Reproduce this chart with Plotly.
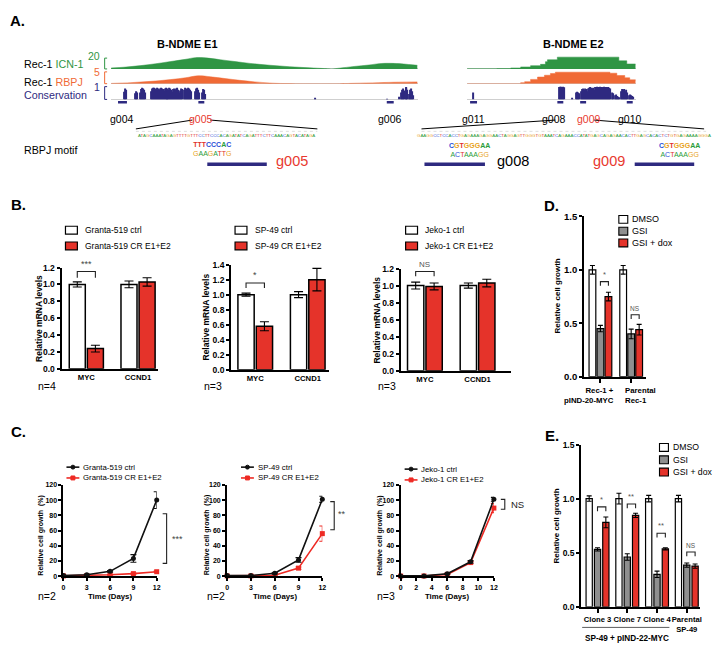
import plotly.graph_objects as go

W, H = 723, 657
FONT = "Liberation Sans, Arial, sans-serif"
GREEN = "#2f9544"
ORANGE = "#f06a36"
PURPLE = "#2e2a80"
RED = "#e5332a"
TXTRED = "#e8392f"
GRAYBAR = "#8f8f8f"

# ---------------- Panel A data (positions along each enhancer window) ----------------
e1_icn_pos = [0, 15, 30, 45, 60, 75, 85, 95, 110, 125, 140, 160, 180, 200, 215, 222, 230, 245, 260, 273, 290, 300, 309]
e1_icn_val = [1.3, 2.5, 4.5, 7, 10, 13, 15.3, 15, 12.5, 10, 7.5, 5, 3, 1.5, 0.5, 0, 1, 3.3, 5.3, 7.4, 7.2, 6, 4.9]
e1_rbpj_pos = [0, 20, 40, 60, 75, 88, 100, 115, 130, 145, 160, 175, 230, 245, 270, 290, 309]
e1_rbpj_val = [0.1, 0.4, 0.9, 1.6, 2.3, 3.1, 2.7, 2.0, 1.3, 0.7, 0.25, 0.05, 0.0, 0.15, 0.4, 0.6, 0.7]
e1_cons_pos = [13, 14, 15, 24, 25, 26, 29, 30, 31, 32, 33, 34,
               40, 41, 42, 43, 44, 45, 46, 47, 48, 49, 50, 51, 52, 53, 54, 55, 56, 57, 58, 59,
               60, 61, 62, 63, 64, 65, 66, 67, 68, 69, 70, 71, 72,
               74, 75, 76, 77, 78, 79, 80, 81, 85, 86, 87, 88, 89, 92, 93, 94, 95,
               206, 278, 290, 292, 293, 294, 295, 297, 298, 299, 301, 302, 303, 304, 305]
e1_cons_val = [0.55, 0.8, 0.7, 0.45, 0.6, 0.5, 0.5, 0.75, 0.85, 0.8, 0.7, 0.5,
               0.6, 0.8, 0.85, 0.85, 0.8, 0.75, 0.85, 0.8, 0.7, 0.8, 0.85, 0.8, 0.75, 0.65, 0.8, 0.85, 0.8, 0.6, 0.7, 0.85,
               0.8, 0.7, 0.55, 0.75, 0.8, 0.7, 0.8, 0.85, 0.7, 0.5, 0.65, 0.8, 0.75,
               0.7, 0.85, 0.8, 0.75, 0.85, 0.8, 0.7, 0.6, 0.6, 0.8, 0.85, 0.7, 0.5, 0.5, 0.75, 0.7, 0.4,
               0.07, 0.04, 0.2, 0.5, 0.7, 0.8, 0.65, 0.85, 0.9, 0.7, 0.4, 0.7, 0.8, 0.6, 0.3]
e2_icn_pos = [0, 30, 44, 54, 64, 74, 79, 81, 91, 153, 161, 170]
e2_icn_val = [0.2, 0.5, 1.3, 2.7, 4.4, 6.2, 9.8, 12.4, 16, 11, 6.7, 6.7]
e2_rbpj_pos = [0, 54, 58, 64, 71, 78, 84, 89, 141, 144, 151, 159, 164, 170]
e2_rbpj_val = [0, 0.4, 0.77, 1.67, 2.6, 3.3, 4.0, 4.5, 4.5, 4.1, 3.2, 2.3, 1.5, 1.3]
e2_cons_pos = [6, 93, 94, 95, 96, 97, 98, 106, 110, 111, 112, 113,
               115, 116, 117, 118, 119, 120, 121, 122, 123, 124, 125, 126, 127, 128,
               129, 130, 131, 132, 133, 134, 135, 136, 137, 138, 139, 140, 141, 142, 143, 144,
               146, 147, 149, 150, 151, 152, 153, 155, 156, 157, 158, 159, 160, 161, 163, 164, 165, 166, 167]
e2_cons_val = [0.5, 0.9, 0.92, 0.92, 0.9, 0.92, 0.88, 0.12, 0.5, 0.55, 0.5, 0.45,
               0.6, 0.75, 0.8, 0.7, 0.8, 0.75, 0.6, 0.8, 0.85, 0.9, 0.85, 0.8, 0.85, 0.7,
               0.9, 0.9, 0.92, 0.9, 0.9, 0.92, 0.9, 0.88, 0.9, 0.92, 0.9, 0.9, 0.88, 0.9, 0.85, 0.8,
               0.5, 0.45, 0.3, 0.35, 0.25, 0.2, 0.15, 0.6, 0.75, 0.7, 0.75, 0.6, 0.7, 0.5, 0.3, 0.35, 0.3, 0.25, 0.2]
e1_guides = ["g004", "g005", "g006"]
e1_guide_start = [7, 88, 278]
e1_guide_end = [16, 94, 285]
e2_guides = ["g011", "g008", "g009", "g010"]
e2_guide_start = [3, 91, 114, 161]
e2_guide_end = [10, 97, 120, 167]
red_guides = ["g005", "g009"]
e1_seq = "ATAGCAAATAGAGTTTTGTTTCCTTCCCACAGATATCAGATTTCTTCAAACAGTACATAGA"
e2_seq = "GAAGGCCTCCACCTGAGAAAGAGGAACTAGGAGTTGGGTGTAAATCAGAAACCATATGAGCAGAGAACACTTGAGCACACTCTGTGAGAAAAGGGA"

# ---------------- Panel B data ----------------
genes = ["MYC", "CCND1"]
granta_ctrl = [1.00, 1.00]
granta_ctrl_err = [0.03, 0.04]
granta_cr = [0.24, 1.03]
granta_cr_err = [0.04, 0.05]
sp49_ctrl = [1.00, 1.00]
sp49_ctrl_err = [0.02, 0.04]
sp49_cr = [0.58, 1.20]
sp49_cr_err = [0.06, 0.15]
jeko_ctrl = [1.00, 1.00]
jeko_ctrl_err = [0.04, 0.03]
jeko_cr = [0.99, 1.03]
jeko_cr_err = [0.04, 0.045]

# ---------------- Panel C data ----------------
days = [0, 3, 6, 9, 12]
granta_ctrl_growth = [1, 2, 6.5, 23.5, 100]
granta_ctrl_growth_err = [0.3, 0.5, 1, 5, 11]
granta_cr_growth = [0.5, 1, 2, 3.5, 6]
granta_cr_growth_err = [0.2, 0.2, 0.5, 0.7, 0.8]
sp49_ctrl_growth = [1, 1, 4, 21.5, 101]
sp49_ctrl_growth_err = [0.2, 0.3, 0.8, 3, 4]
sp49_cr_growth = [0.5, 0.5, 1.3, 10.7, 56]
sp49_cr_growth_err = [0.2, 0.2, 0.5, 1.5, 10]
jeko_ctrl_growth = [0.5, 0.5, 3.3, 19, 101]
jeko_ctrl_growth_err = [0.2, 0.2, 0.5, 1.5, 2.5]
jeko_cr_growth = [0.3, 0.4, 2.5, 18, 89.5]
jeko_cr_growth_err = [0.2, 0.2, 0.5, 1.5, 6]

# ---------------- Panel D data ----------------
d_groups = ["Rec-1 +<br>pIND-20-MYC", "Parental<br>Rec-1"]
d_dmso = [1.00, 1.00]
d_dmso_err = [0.04, 0.04]
d_gsi = [0.45, 0.40]
d_gsi_err = [0.03, 0.045]
d_dox = [0.75, 0.44]
d_dox_err = [0.04, 0.05]

# ---------------- Panel E data ----------------
e_groups = ["Clone 3", "Clone 7", "Clone 4", "Parental<br>SP-49"]
e_dmso = [1.00, 1.00, 1.00, 1.00]
e_dmso_err = [0.025, 0.05, 0.03, 0.03]
e_gsi = [0.53, 0.46, 0.30, 0.385]
e_gsi_err = [0.015, 0.03, 0.03, 0.02]
e_dox = [0.78, 0.845, 0.536, 0.376]
e_dox_err = [0.05, 0.02, 0.01, 0.02]

# =====================================================================
fig = go.Figure()
annotations = []
shapes = []
axes = {}


def xdom(a, b):
    return [a / W, b / W]


def ydom(top, bot):
    return [1 - bot / H, 1 - top / H]


def T(text, x, y, size=11, color="black", bold=False, xanchor="center", yanchor="middle", angle=0, align="center"):
    annotations.append(dict(text=text, x=x / W, y=1 - y / H, xref="paper", yref="paper", showarrow=False,
                            font=dict(size=size, color=color, family=FONT, weight="bold" if bold else "normal"),
                            xanchor=xanchor, yanchor=yanchor, textangle=angle, borderpad=0, align=align))


def L(x0, y0, x1, y1, color="black", width=1, dash=None):
    shapes.append(dict(type="line", xref="paper", yref="paper", x0=x0 / W, y0=1 - y0 / H, x1=x1 / W, y1=1 - y1 / H,
                       line=dict(color=color, width=width, dash=dash)))


def R(x0, y0, x1, y1, fill, line="black", lw=1):
    shapes.append(dict(type="rect", xref="paper", yref="paper", x0=x0 / W, y0=1 - y0 / H, x1=x1 / W, y1=1 - y1 / H,
                       fillcolor=fill, line=dict(color=line, width=lw)))


def tick_font(size):
    return dict(family=FONT, size=size, color="black", weight="bold")


# ---------------- Panel A ----------------
axes["xaxis"] = dict(domain=xdom(110, 419), range=[0, 309], visible=False, anchor="y4")
axes["xaxis2"] = dict(domain=xdom(469, 639), range=[0, 170], visible=False, anchor="y8")
track_y = dict(showgrid=False, showline=False, showticklabels=False, ticks="", zeroline=True,
               zerolinecolor="#cfcfcf", zerolinewidth=1)
for i, (top, bot, rng) in enumerate([(49, 64, [0, 20]), (66, 79, [0, 5]), (81, 95, [0, 1])]):
    axes["yaxis%s" % ("" if i == 0 else i + 1)] = dict(track_y, domain=ydom(top, bot), range=rng, anchor="x")
    axes["yaxis%d" % (i + 5)] = dict(track_y, domain=ydom(top, bot), range=rng, anchor="x2")
axes["yaxis4"] = dict(domain=ydom(96, 100), range=[0, 1], visible=False, anchor="x")
axes["yaxis8"] = dict(domain=ydom(96, 100), range=[0, 1], visible=False, anchor="x2")

for xa, ya, xs, ys, col, shp in [("x", "y", e1_icn_pos, e1_icn_val, GREEN, "spline"),
                                 ("x", "y2", e1_rbpj_pos, e1_rbpj_val, ORANGE, "spline"),
                                 ("x2", "y5", e2_icn_pos, e2_icn_val, GREEN, "hv"),
                                 ("x2", "y6", e2_rbpj_pos, e2_rbpj_val, ORANGE, "hv")]:
    fig.add_trace(go.Scatter(x=xs, y=ys, xaxis=xa, yaxis=ya, mode="lines", fill="tozeroy", fillcolor=col,
                             line=dict(color=col, width=0.5, shape=shp), hoverinfo="skip", showlegend=False))
for xa, ya, xs, ys in [("x", "y3", e1_cons_pos, e1_cons_val), ("x2", "y7", e2_cons_pos, e2_cons_val)]:
    fig.add_trace(go.Bar(x=xs, y=ys, xaxis=xa, yaxis=ya, width=1.08, marker=dict(color=PURPLE, line=dict(width=0)),
                         showlegend=False, hoverinfo="skip"))


def guide_trace(xa, ya, starts, ends):
    gx, gy = [], []
    for s, e in zip(starts, ends):
        gx += [s, e, None]
        gy += [0.5, 0.5, None]
    fig.add_trace(go.Scatter(x=gx, y=gy, xaxis=xa, yaxis=ya, mode="lines", line=dict(color=PURPLE, width=2.5),
                             showlegend=False, hoverinfo="skip"))


guide_trace("x", "y4", e1_guide_start, e1_guide_end)
guide_trace("x2", "y8", e2_guide_start, e2_guide_end)
label_shift = {"g008": -6, "g009": 6}
for xa, names, starts, ends in [("x", e1_guides, e1_guide_start, e1_guide_end),
                                ("x2", e2_guides, e2_guide_start, e2_guide_end)]:
    for n, s, e in zip(names, starts, ends):
        annotations.append(dict(text=n, x=(s + e) / 2, xref=xa, y=1 - 107 / H, yref="paper", showarrow=False,
                                xshift=label_shift.get(n, 0),
                                font=dict(size=10.5, family=FONT, color=TXTRED if n in red_guides else "black")))

T("A.", 7, 15, size=15, bold=True, xanchor="left")
T("B-NDME E1", 187, 39, size=11, bold=True)
T("B-NDME E2", 576, 39, size=11, bold=True)
T("Rec-1 <span style='color:%s'>ICN-1</span>" % GREEN, 21, 59, size=10.7, xanchor="left")
T("Rec-1 <span style='color:%s'>RBPJ</span>" % ORANGE, 21, 77, size=10.7, xanchor="left")
T("Conservation", 21, 91, size=10.7, color=PURPLE, xanchor="left")
T("20", 100, 51, size=10.5, color=GREEN, xanchor="right")
T("5", 100, 67, size=10.5, color=ORANGE, xanchor="right")
T("1", 100, 82, size=10.5, color=PURPLE, xanchor="right")
for (y0, y1, c) in [(53, 64, GREEN), (67, 79, ORANGE), (82, 95, PURPLE)]:
    shapes.append(dict(type="path", xref="paper", yref="paper",
                       path="M %f,%f L %f,%f L %f,%f L %f,%f" % (106 / W, 1 - y0 / H, 103.5 / W, 1 - y0 / H,
                                                                 103.5 / W, 1 - y1 / H, 106 / W, 1 - y1 / H),
                       line=dict(color=c, width=1)))

# zoom lines
L(192, 116, 135, 125)
L(210, 116, 318, 125)
L(558, 116, 423, 125)
L(597, 116, 708, 125)
L(135, 127.5, 318, 127.5, color="#c8c8c8", width=0.6, dash="dot")
L(423, 127.5, 710, 127.5, color="#c8c8c8", width=0.6, dash="dot")

BASE = {"A": "#2a9d3a", "C": "#2b4fd6", "G": "#e8a21a", "T": "#e0302a"}


def colored(seq):
    return "".join("<span style='color:%s'>%s</span>" % (BASE[b], b) for b in seq)


T(colored(e1_seq), 226.5, 132, size=4.4)
T(colored(e2_seq), 566.5, 132, size=4.4)
T("RBPJ motif", 21, 146, size=10.7, xanchor="left")


def logo(top, bot, x, y):
    txt = "<b>" + colored(top) + "</b><br>" + colored(bot)
    T(txt, x, y, size=7)


logo("TTTCCCAC", "GAAGATTG", 212, 145)
logo("CGTGGGAA", "ACTAAAGG", 471, 146)
logo("CGTGGGAA", "ACTAAAGG", 683, 146)

for (a, b) in [(207, 267), (426, 487), (638, 698)]:
    L(a, 161, b, 161, color=PURPLE, width=3.5)
T("g005", 292, 158, size=14.5, color=TXTRED)
T("g008", 515, 158, size=14.5)
T("g009", 612, 158, size=14.5, color=TXTRED)

# ---------------- Panel B ----------------
T("B.", 8, 202, size=15, bold=True, xanchor="left")


def bar_axes(xn, yn, xd, yd, xr, yr, tickvals, ticktext, yticks, xticks="", xtsize=7.7, ytsize=8.5, fmt=".1f"):
    axes["xaxis%d" % xn] = dict(domain=xdom(*xd), range=xr, anchor="y%d" % yn, showline=True, linecolor="black",
                                linewidth=2, showgrid=False, zeroline=False, tickmode="array", tickvals=tickvals,
                                ticktext=ticktext, ticks=xticks, ticklen=4, tickwidth=2, tickcolor="black",
                                tickfont=tick_font(xtsize), tickangle=0)
    axes["yaxis%d" % yn] = dict(domain=ydom(*yd), range=yr, anchor="x%d" % xn, showline=True, linecolor="black",
                                linewidth=2, showgrid=False, zeroline=False, tickmode="array", tickvals=yticks,
                                tickformat=fmt, ticks="outside", ticklen=3, tickwidth=2, tickcolor="black",
                                tickfont=tick_font(ytsize))


def bars(xn, yn, vals, errs, color, offset, width, lw=1.5, errw=4.5):
    fig.add_trace(go.Bar(x=list(range(len(vals))), y=vals, xaxis="x%d" % xn, yaxis="y%d" % yn,
                         offset=offset, width=width,
                         marker=dict(color=color, line=dict(color="black", width=lw)),
                         error_y=dict(type="data", array=errs, color="black", thickness=1.1, width=errw),
                         showlegend=False, hoverinfo="skip"))


def bracket(xn, yn, x0, x1, ytop, yleg, label, size=9, color="#333333"):
    shapes.append(dict(type="path", xref="x%d" % xn, yref="y%d" % yn,
                       path="M %f,%f L %f,%f L %f,%f L %f,%f" % (x0, yleg, x0, ytop, x1, ytop, x1, yleg),
                       line=dict(color="#222222", width=1.1)))
    annotations.append(dict(text=label, x=(x0 + x1) / 2, y=ytop, xref="x%d" % xn, yref="y%d" % yn,
                            yanchor="bottom", showarrow=False, yshift=1,
                            font=dict(size=size, family=FONT, color=color)))


b_panels = [
    (3, 9, (60, 157), (266, 369), [-0.48, 1.38], [0, 1.2], granta_ctrl, granta_ctrl_err, granta_cr, granta_cr_err,
     "Granta-519", 64, 37, "***", 1.153, 1.08, "n=4", 35),
    (4, 10, (231, 330), (263, 370), [-0.46, 1.41], [0, 1.4], sp49_ctrl, sp49_ctrl_err, sp49_cr, sp49_cr_err,
     "SP-49", 235, 206, "*", 1.155, 1.09, "n=3", 203),
    (5, 11, (402, 513), (267, 371), [-0.46, 1.63], [0, 1.2], jeko_ctrl, jeko_ctrl_err, jeko_cr, jeko_cr_err,
     "Jeko-1", 407, 378, "NS", 1.165, 1.11, "n=3", 378),
]
for (xn, yn, xd, yd, xr, yr, cv, ce, rv, re_, name, lgx, ytx, sig, stop, sleg, ntxt, nx) in b_panels:
    yt = [round(0.2 * k, 1) for k in range(int(round(yr[1] / 0.2)) + 1)]
    bar_axes(xn, yn, xd, yd, xr, yr, [0, 1], genes, yt)
    bars(xn, yn, cv, ce, "white", -0.33, 0.31)
    bars(xn, yn, rv, re_, RED, 0.02, 0.31)
    bracket(xn, yn, -0.175, 0.175, stop, sleg, sig, size=9 if sig != "NS" else 8,
            color="#444444" if sig != "NS" else "#555555")
    R(lgx, 224, lgx + 12, 232, "white", lw=1.2)
    R(lgx, 240, lgx + 12, 248, RED, lw=1.2)
    T(name + " ctrl", lgx + 19, 228, size=8.5, xanchor="left")
    T(name + " CR E1+E2", lgx + 19, 244, size=8.5, xanchor="left")
    T("Relative mRNA levels", ytx, (yd[0] + yd[1]) / 2, size=8.5, bold=True, angle=-90)
    T(ntxt, nx, 386, size=10.5, xanchor="left")

# ---------------- Panel D ----------------
T("D.", 546, 203, size=15, bold=True, xanchor="left")
bar_axes(6, 12, (587, 649), (214, 377), [-0.53, 1.47], [0, 1.5], [0, 1], ["", ""], [0, 0.5, 1.0, 1.5],
         xticks="outside", ytsize=9.5)
bars(6, 12, d_dmso, d_dmso_err, "white", -0.37, 0.22, lw=1.2, errw=2.5)
bars(6, 12, d_gsi, d_gsi_err, GRAYBAR, -0.11, 0.22, lw=1.2, errw=2.5)
bars(6, 12, d_dox, d_dox_err, RED, 0.15, 0.22, lw=1.2, errw=2.5)
bracket(6, 12, 0.0, 0.26, 0.89, 0.85, "*", size=7.5, color="#555555")
bracket(6, 12, 1.0, 1.26, 0.58, 0.54, "NS", size=6.5, color="#555555")
T(d_groups[0], 618, 385, size=7.8, bold=True, xanchor="right", yanchor="top", align="right")
T(d_groups[1], 627, 385, size=7.8, bold=True, xanchor="left", yanchor="top", align="left")
T("Relative cell growth", 560, 295, size=8, bold=True, angle=-90)
for i, (lab, col) in enumerate([("DMSO", "white"), ("GSI", GRAYBAR), ("GSI + dox", RED)]):
    yy = 217 + 12 * i
    R(622, yy - 4, 631, yy + 4, col, lw=1.1)
    T(lab, 634, yy, size=9, xanchor="left")

# ---------------- Panel E ----------------
T("E.", 547, 437, size=15, bold=True, xanchor="left")
bar_axes(10, 16, (584, 704), (446, 611), [-0.55, 3.45], [0, 1.5], [0, 1, 2, 3], e_groups, [0, 0.5, 1.0, 1.5],
         xticks="outside", xtsize=7.6, ytsize=8.5)
bars(10, 16, e_dmso, e_dmso_err, "white", -0.385, 0.21, lw=1.2, errw=2.5)
bars(10, 16, e_gsi, e_gsi_err, GRAYBAR, -0.105, 0.21, lw=1.2, errw=2.5)
bars(10, 16, e_dox, e_dox_err, RED, 0.175, 0.21, lw=1.2, errw=2.5)
for k, (top, lab) in enumerate([(0.924, "*"), (0.95, "**"), (0.68, "**"), (0.506, "NS")]):
    bracket(10, 16, k + 0.0, k + 0.28, top, top - 0.04, lab, size=7.5 if lab != "NS" else 6.5, color="#555555")
T("Relative cell growth", 559, 529, size=8, bold=True, angle=-90)
for i, (lab, col) in enumerate([("DMSO", "white"), ("GSI", GRAYBAR), ("GSI + dox", RED)]):
    yy = 449 + 12.5 * i
    R(663, yy - 4, 672, yy + 4, col, lw=1.1)
    T(lab, 676, yy, size=8.7, xanchor="left")
L(585, 632, 673, 632, color="#333333", width=0.8)
T("SP-49 + pIND-22-MYC", 630, 643, size=8.2, bold=True)

# ---------------- Panel C ----------------
T("C.", 8, 433, size=15, bold=True, xanchor="left")
c_panels = [
    (7, 13, (62, 156), 3, granta_ctrl_growth, granta_ctrl_growth_err, granta_cr_growth, granta_cr_growth_err,
     "Granta-519", 65, 469, 39, 109, "n=2", 35, (166, 82, 17, "***", 177, 49, 9, "#444444")),
    (8, 14, (227, 323), 3, sp49_ctrl_growth, sp49_ctrl_growth_err, sp49_cr_growth, sp49_cr_growth_err,
     "SP-49", 241, 469, 207, 275, "n=2", 206, (335, 98, 61, "**", 343, 82, 9, "#444444")),
    (9, 15, (402, 496), 2, jeko_ctrl_growth, jeko_ctrl_growth_err, jeko_cr_growth, jeko_cr_growth_err,
     "Jeko-1", 406, 471, 381, 449, "n=3", 377, (507, 101, 88, "NS", 511, 94, 9.5, "#222222")),
]
for (xn, yn, xd, dt, cv, ce, rv, re_, name, lgx, lgy, ytx, xtx, ntxt, nx, br) in c_panels:
    axes["xaxis%d" % xn] = dict(domain=xdom(*xd), range=[0, 12], anchor="y%d" % yn, showline=True,
                                linecolor="black", linewidth=2, showgrid=False, zeroline=False, dtick=dt, tick0=0,
                                ticks="outside", ticklen=3, tickwidth=1.5, tickcolor="black", tickfont=tick_font(7),
                                tickangle=0)
    axes["yaxis%d" % yn] = dict(domain=ydom(487, 580), range=[0, 120], anchor="x%d" % xn, showline=True,
                                linecolor="black", linewidth=2, showgrid=False, zeroline=False, dtick=20, tick0=0,
                                ticks="outside", ticklen=3, tickwidth=1.5, tickcolor="black", tickfont=tick_font(7))
    for vals, errs, col, sym in [(rv, re_, "#ee2a24", "square"), (cv, ce, "#111111", "circle")]:
        fig.add_trace(go.Scatter(x=days, y=vals, xaxis="x%d" % xn, yaxis="y%d" % yn, mode="lines+markers",
                                 line=dict(color=col, width=1.6), marker=dict(symbol=sym, size=5, color=col),
                                 error_y=dict(type="data", array=errs, color=col, thickness=1.1, width=3),
                                 cliponaxis=False, showlegend=False, hoverinfo="skip"))
    # legend
    for i, (lab, col, sym) in enumerate([(name + " ctrl", "#111111", "circle"),
                                         (name + " CR E1+E2", "#ee2a24", "square")]):
        yy = lgy + 11 * i
        L(lgx, yy, lgx + 13, yy, color=col, width=1.6)
        if sym == "circle":
            shapes.append(dict(type="circle", xref="paper", yref="paper", x0=(lgx + 4.5) / W, x1=(lgx + 8.5) / W,
                               y0=1 - (yy + 2) / H, y1=1 - (yy - 2) / H, fillcolor=col, line=dict(color=col, width=1)))
        else:
            R(lgx + 4.5, yy - 2, lgx + 8.5, yy + 2, col, line=col)
        T(lab, lgx + 16, yy, size=7.8, xanchor="left")
    T("Relative cell growth\u00a0\u00a0(%)", ytx, 538, size=7, bold=True, angle=-90)
    T("Time (Days)", xtx, 601, size=7.8, bold=True)
    T(ntxt, nx, 600, size=10.5, xanchor="left")
    bx, btop, bbot, blab, lx, ly, lsize, lcol = br
    shapes.append(dict(type="path", xref="paper", yref="y%d" % yn,
                       path="M %f,%f L %f,%f L %f,%f L %f,%f" % ((bx - 4) / W, btop, bx / W, btop, bx / W, bbot,
                                                                 (bx - 4) / W, bbot),
                       line=dict(color="#222222", width=1.1)))
    annotations.append(dict(text=blab, x=lx / W, xref="paper", y=ly, yref="y%d" % yn, showarrow=False,
                            xanchor="center" if blab != "NS" else "left",
                            font=dict(size=lsize, family=FONT, color=lcol)))

fig.update_layout(width=W, height=H, margin=dict(l=0, r=0, t=0, b=0), paper_bgcolor="white",
                  plot_bgcolor="white", showlegend=False, barmode="group", annotations=annotations,
                  shapes=shapes, font=dict(family=FONT), **axes)
fig.write_html("out.html", config={"displayModeBar": False},
               post_script="document.body.style.margin='0';document.body.style.overflow='hidden';")
